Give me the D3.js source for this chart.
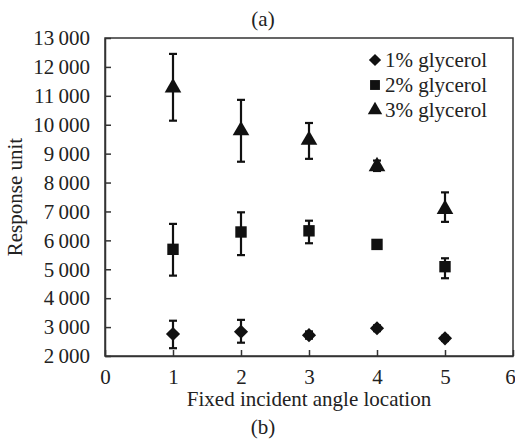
<!DOCTYPE html>
<html>
<head>
<meta charset="utf-8">
<script src="https://cdn.jsdelivr.net/npm/d3@7"></script>
<style>
body { margin: 0; background: #fff; }
svg text { font-family: "Liberation Serif", Tinos, "Times New Roman", "DejaVu Serif", serif !important; fill: #222; }
</style>
</head>
<body>
<div id="chart"></div>
<script>
// donnees
var locations = [1, 2, 3, 4, 5];
var seriesNames = ["1% glycerol", "2% glycerol", "3% glycerol"];
var glyc1 = [2760, 2840, 2720, 2960, 2610];
var glyc1Hi = [3220, 3250, 2850, 3060, 2700];
var glyc1Lo = [2270, 2460, 2600, 2860, 2520];
var glyc2 = [5690, 6290, 6330, 5860, 5090];
var glyc2Hi = [6570, 6970, 6680, 5900, 5380];
var glyc2Lo = [4780, 5490, 5900, 5820, 4690];
var glyc3 = [11280, 9800, 9470, 8560, 7080];
var glyc3Hi = [12450, 10860, 10060, 8760, 7660];
var glyc3Lo = [10140, 8720, 8820, 8400, 6640];
var xTicks = [0, 1, 2, 3, 4, 5, 6];
var yTicks = [2000, 3000, 4000, 5000, 6000, 7000, 8000, 9000, 10000, 11000, 12000, 13000];

var width = 515, height = 441;
var margin = { left: 105, right: 2, top: 38, bottom: 85 };
var fs = 21;

var svg = d3.select("#chart").append("svg")
    .attr("width", width)
    .attr("height", height)
    .attr("font-family", "Liberation Serif");

var x = d3.scaleLinear().domain([0, 6]).range([margin.left, width - margin.right]);
var y = d3.scaleLinear().domain([2000, 13000]).range([height - margin.bottom, margin.top]);

var fmt = function(d) { return d3.format(",")(d).replace(",", "\u2009"); };

// cadre
svg.append("rect")
    .attr("x", x(0)).attr("y", y(13000))
    .attr("width", x(6) - x(0)).attr("height", y(2000) - y(13000))
    .attr("fill", "none").attr("stroke", "#333").attr("stroke-width", 1.5);

var xAxis = svg.append("g")
    .attr("transform", "translate(0," + y(2000) + ")")
    .call(d3.axisBottom(x).tickValues(xTicks).tickFormat(d3.format("d")).tickSizeInner(-6).tickSizeOuter(0).tickPadding(13));
var yAxis = svg.append("g")
    .attr("transform", "translate(" + x(0) + ",0)")
    .call(d3.axisLeft(y).tickValues(yTicks).tickFormat(fmt).tickSizeInner(-6).tickSizeOuter(0).tickPadding(15));

[xAxis, yAxis].forEach(function(a) {
    a.attr("font-family", null);
    a.select(".domain").attr("stroke", "#333").attr("stroke-width", 1.5);
    a.selectAll(".tick line").attr("stroke", "#333").attr("stroke-width", 1.5);
    a.selectAll(".tick text").attr("font-size", fs).attr("fill", "#222");
});
// le 6 est coupe au bord dans l'original, on le rentre un peu
xAxis.selectAll(".tick text").filter(function(d) { return d === 6; }).attr("dx", -3);

// titres
svg.append("text").attr("x", x(3)).attr("y", 406).attr("text-anchor", "middle")
    .attr("font-size", fs).text("Fixed incident angle location");
svg.append("text").attr("transform", "translate(22," + y(7500) + ") rotate(-90)")
    .attr("text-anchor", "middle").attr("font-size", fs).text("Response unit");
svg.append("text").attr("x", 263).attr("y", 26).attr("text-anchor", "middle")
    .attr("font-size", fs).text("(a)");
svg.append("text").attr("x", 263).attr("y", 434).attr("text-anchor", "middle")
    .attr("font-size", fs).text("(b)");

var series = [
    { name: seriesNames[0], v: glyc1, hi: glyc1Hi, lo: glyc1Lo, sym: d3.symbolSquare, size: 100, rot: 45 },
    { name: seriesNames[1], v: glyc2, hi: glyc2Hi, lo: glyc2Lo, sym: d3.symbolSquare, size: 130, rot: 0 },
    { name: seriesNames[2], v: glyc3, hi: glyc3Hi, lo: glyc3Lo, sym: d3.symbolTriangle, size: 120, rot: 0 }
];

series.forEach(function(s) {
    var g = svg.append("g");
    locations.forEach(function(loc, i) {
        var cx = x(loc);
        g.append("line").attr("x1", cx).attr("x2", cx).attr("y1", y(s.hi[i])).attr("y2", y(s.lo[i]))
            .attr("stroke", "#111").attr("stroke-width", 2.2);
        [s.hi[i], s.lo[i]].forEach(function(e) {
            g.append("line").attr("x1", cx - 4).attr("x2", cx + 4).attr("y1", y(e)).attr("y2", y(e))
                .attr("stroke", "#111").attr("stroke-width", 2.2);
        });
        g.append("path").attr("d", d3.symbol().type(s.sym).size(s.size)())
            .attr("transform", "translate(" + cx + "," + y(s.v[i]) + ") rotate(" + s.rot + ")")
            .attr("fill", "#111");
    });
});

// legende
var legend = svg.append("g");
series.forEach(function(s, i) {
    var ly = 60 + i * 25;
    legend.append("path").attr("d", d3.symbol().type(s.sym).size(s.size * 0.75)())
        .attr("transform", "translate(375," + ly + ") rotate(" + s.rot + ")").attr("fill", "#111");
    legend.append("text").attr("x", 385).attr("y", ly + 7).attr("font-size", fs).text(s.name);
});
</script>
</body>
</html>
